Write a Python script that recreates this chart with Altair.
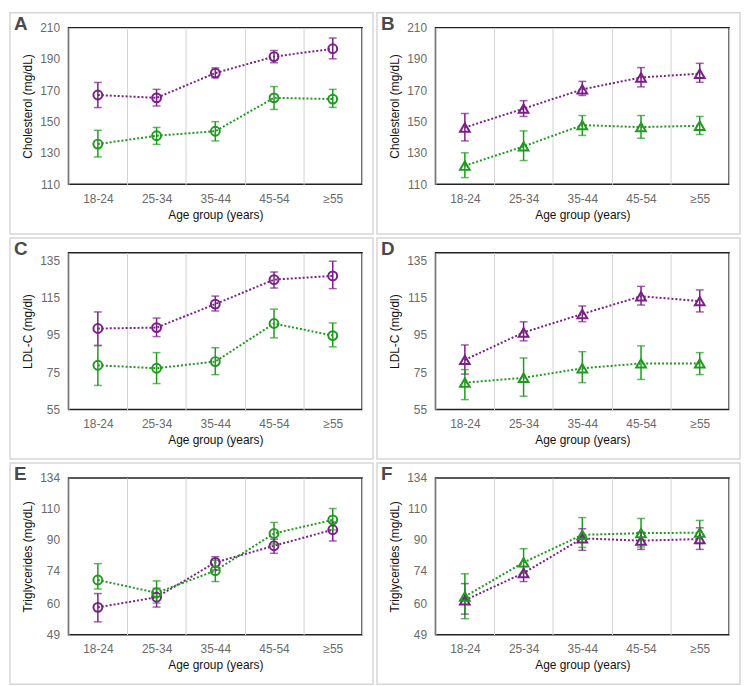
import altair as alt
import pandas as pd

ages = ["18-24", "25-34", "35-44", "45-54", "≥55"]
groups = ["purple", "green"]
colors = ["#7a1f87", "#1f9a1f"]

# Panel A: Cholesterol (circles)
A_purple = [167.0, 165.2, 181.0, 191.5, 196.5]
A_purple_lo = [159.0, 160.0, 178.0, 187.6, 190.1]
A_purple_hi = [175.0, 170.6, 184.3, 195.4, 203.4]
A_green = [135.7, 141.0, 143.9, 165.2, 164.4]
A_green_lo = [127.5, 135.5, 137.7, 157.8, 159.1]
A_green_hi = [144.5, 146.3, 150.0, 172.4, 170.6]

# Panel B: Cholesterol (triangles)
B_purple = [146.3, 158.3, 170.6, 178.2, 180.6]
B_purple_lo = [137.7, 153.3, 166.7, 172.2, 175.1]
B_purple_hi = [155.2, 163.4, 175.7, 184.5, 187.2]
B_green = [121.9, 134.2, 147.8, 146.5, 147.4]
B_green_lo = [114.3, 125.2, 141.2, 139.4, 141.8]
B_green_hi = [130.1, 144.1, 153.9, 153.9, 153.3]

# Panel C: LDL-C (circles)
C_purple = [98.4, 98.9, 111.5, 124.6, 126.6]
C_purple_lo = [89.3, 94.1, 107.8, 120.1, 119.8]
C_purple_hi = [107.3, 104.0, 115.8, 128.7, 134.5]
C_green = [78.7, 77.1, 80.7, 101.1, 94.6]
C_green_lo = [67.9, 68.9, 73.7, 93.4, 88.6]
C_green_hi = [89.3, 85.5, 88.1, 108.8, 101.4]

# Panel D: LDL-C (triangles)
D_purple = [81.6, 96.3, 106.2, 115.7, 113.1]
D_purple_lo = [74.0, 91.8, 102.1, 111.0, 107.3]
D_purple_hi = [89.6, 102.0, 110.5, 121.0, 119.1]
D_green = [69.4, 72.0, 77.1, 79.7, 79.7]
D_green_lo = [60.3, 62.1, 69.4, 71.1, 73.7]
D_green_hi = [76.4, 82.6, 86.0, 89.1, 85.5]

# Panel E: Triglycerides (circles)
E_purple = [58.4, 62.3, 77.9, 86.7, 96.1]
E_purple_lo = [53.2, 58.5, 74.2, 82.6, 89.4]
E_purple_hi = [63.8, 66.0, 80.8, 90.5, 101.0]
E_green = [69.6, 64.1, 73.9, 93.8, 102.4]
E_green_lo = [65.7, 60.0, 68.9, 87.7, 96.0]
E_green_hi = [77.3, 69.2, 79.0, 100.7, 110.1]

# Panel F: Triglycerides (triangles)
F_purple = [61.1, 72.8, 90.9, 89.6, 90.5]
F_purple_lo = [55.9, 68.9, 84.2, 84.7, 84.7]
F_purple_hi = [68.0, 75.9, 96.7, 94.5, 97.3]
F_green = [62.6, 77.9, 93.0, 94.0, 94.3]
F_green_lo = [54.3, 73.0, 85.8, 86.0, 88.0]
F_green_hi = [72.4, 85.1, 103.9, 103.3, 102.0]

chol_ticks = [110, 130, 150, 170, 190, 210]
ldl_ticks = [55, 75, 95, 115, 135]
tg_ticks = [49, 60, 74, 90, 110, 134]

W, H = 296, 158
FONT = "Liberation Sans"


def make_df(purple, plo, phi, green, glo, ghi):
    rows = []
    for g, m, lo, hi in (("purple", purple, plo, phi), ("green", green, glo, ghi)):
        for a, mv, l, h in zip(ages, m, lo, hi):
            rows.append({"age": a, "group": g, "mean": mv, "lo": l, "hi": h})
    return pd.DataFrame(rows)


def panel(letter, ytitle, domain, ticks, log, shape, df):
    xscale = alt.Scale(type="band", domain=ages, paddingInner=0, paddingOuter=0)
    xaxis = alt.Axis(title="Age group (years)", labelAngle=0, domain=False, ticks=False,
                     grid=True, gridColor="#d2d2d2", gridWidth=1, tickBand="extent",
                     labelPadding=9, titlePadding=5)
    x = alt.X("age:N", scale=xscale, axis=xaxis, sort=ages)
    yscale = alt.Scale(domain=domain, type="log" if log else "linear", nice=False, zero=False)
    yaxis = alt.Axis(title=ytitle, values=ticks, domain=False, ticks=False, grid=False,
                     labelPadding=9, titlePadding=5)
    color = alt.Color("group:N", scale=alt.Scale(domain=groups, range=colors), legend=None)

    base = alt.Chart(df)
    line = base.mark_line(strokeDash=[2, 2], strokeWidth=2).encode(
        x=x, y=alt.Y("mean:Q", scale=yscale, axis=yaxis), color=color)
    err = base.mark_rule(strokeWidth=1.5).encode(
        x=x, y=alt.Y("lo:Q", scale=yscale, axis=yaxis), y2="hi:Q", color=color)
    cap_lo = base.mark_tick(size=8, thickness=1.5).encode(
        x=x, y=alt.Y("lo:Q", scale=yscale, axis=yaxis), color=color)
    cap_hi = base.mark_tick(size=8, thickness=1.5).encode(
        x=x, y=alt.Y("hi:Q", scale=yscale, axis=yaxis), color=color)
    pts = base.mark_point(shape=shape, filled=False, size=80 if shape == "circle" else 95,
                          strokeWidth=2, opacity=1).encode(
        x=x, y=alt.Y("mean:Q", scale=yscale, axis=yaxis), color=color)

    deco = pd.DataFrame({"letter": [letter]})
    frame = alt.Chart(deco).mark_rect(fill="transparent", stroke="#d6d6d6", strokeWidth=1.5).encode(
        x=alt.value(-59), x2=alt.value(307), y=alt.value(-15), y2=alt.value(208))
    lab = alt.Chart(deco).mark_text(align="left", baseline="middle", fontSize=19,
                                    fontWeight="bold", font=FONT, color="#4a4a4a").encode(
        x=alt.value(-55), y=alt.value(-4), text="letter:N")

    return alt.layer(frame, line, err, cap_lo, cap_hi, pts, lab).properties(width=W, height=H)


pA = panel("A", "Cholesterol (mg/dL)", [110, 210], chol_ticks, False, "circle",
           make_df(A_purple, A_purple_lo, A_purple_hi, A_green, A_green_lo, A_green_hi))
pB = panel("B", "Cholesterol (mg/dL)", [110, 210], chol_ticks, False, "triangle-up",
           make_df(B_purple, B_purple_lo, B_purple_hi, B_green, B_green_lo, B_green_hi))
pC = panel("C", "LDL-C (mg/dl)", [55, 139], ldl_ticks, False, "circle",
           make_df(C_purple, C_purple_lo, C_purple_hi, C_green, C_green_lo, C_green_hi))
pD = panel("D", "LDL-C (mg/dl)", [55, 139], ldl_ticks, False, "triangle-up",
           make_df(D_purple, D_purple_lo, D_purple_hi, D_green, D_green_lo, D_green_hi))
pE = panel("E", "Triglycerides (mg/dL)", [49, 134], tg_ticks, True, "circle",
           make_df(E_purple, E_purple_lo, E_purple_hi, E_green, E_green_lo, E_green_hi))
pF = panel("F", "Triglycerides (mg/dL)", [49, 134], tg_ticks, True, "triangle-up",
           make_df(F_purple, F_purple_lo, F_purple_hi, F_green, F_green_lo, F_green_hi))

chart = alt.vconcat(
    alt.hconcat(pA, pB, spacing=0),
    alt.hconcat(pC, pD, spacing=0),
    alt.hconcat(pE, pF, spacing=0),
    spacing=0,
).properties(padding=0, background="white").configure_view(
    stroke="#222222", strokeWidth=1.5
).configure_axis(
    labelFont=FONT, titleFont=FONT, labelColor="#6a6a6a", titleColor="#111111",
    labelFontSize=12, titleFontSize=12, titleFontWeight="normal"
)

chart.save("out.html", embed_options={"renderer": "svg", "actions": False})
